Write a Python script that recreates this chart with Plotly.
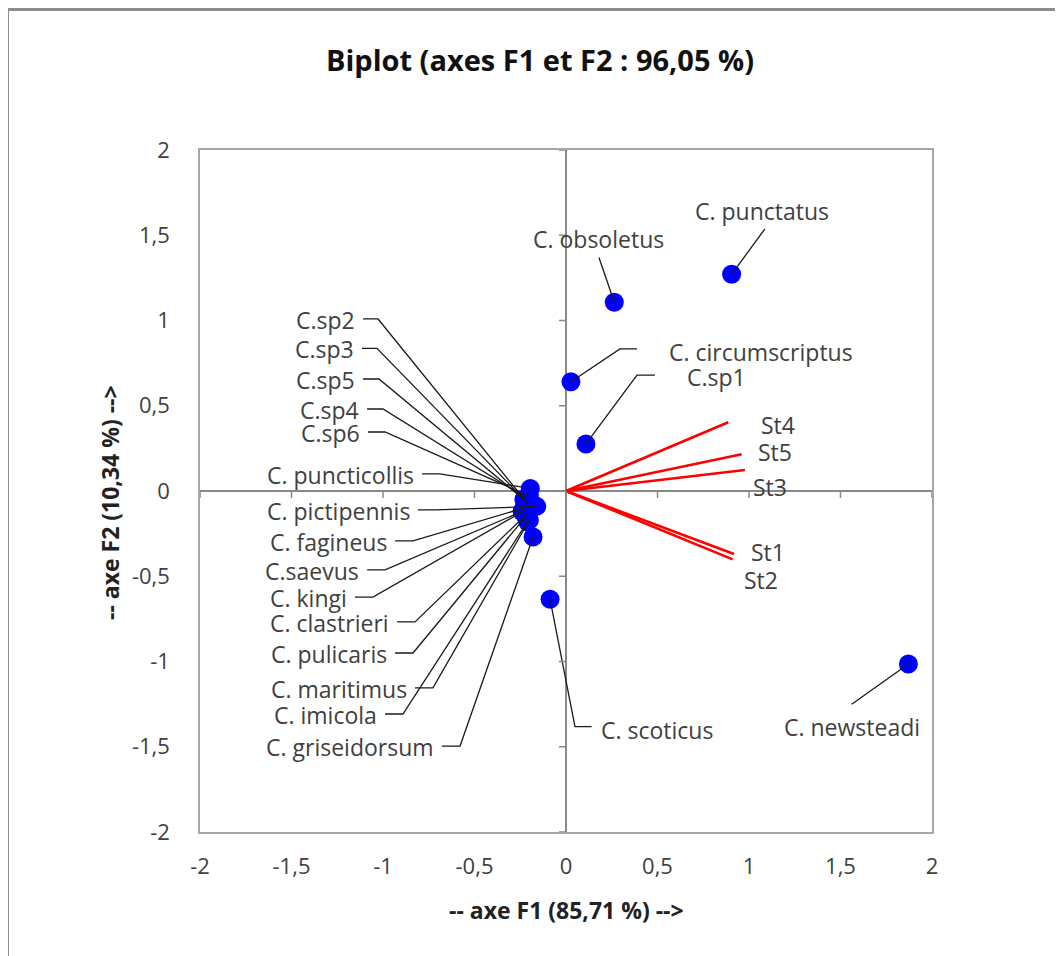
import plotly.graph_objects as go

# ---------------- data ----------------
species = ["C. punctatus", "C. obsoletus", "C. circumscriptus", "C.sp1", "C. scoticus", "C. newsteadi",
           "C.sp2", "C.sp3", "C.sp5", "C.sp4", "C.sp6", "C. puncticollis", "C. pictipennis",
           "C. fagineus", "C.saevus", "C. kingi", "C. clastrieri", "C. pulicaris", "C. maritimus",
           "C. imicola", "C. griseidorsum"]
species_f1 = [0.905, 0.264, 0.027, 0.109, -0.087, 1.871,
              -0.22, -0.21, -0.23, -0.22, -0.20, -0.195, -0.16,
              -0.23, -0.24, -0.22, -0.21, -0.22, -0.20,
              -0.21, -0.18]
species_f2 = [1.271, 1.107, 0.641, 0.276, -0.635, -1.015,
              -0.06, -0.07, -0.05, -0.04, -0.03, 0.015, -0.09,
              -0.10, -0.12, -0.11, -0.13, -0.15, -0.17,
              -0.18, -0.27]

stations = ["St1", "St2", "St3", "St4", "St5"]
station_f1 = [0.918, 0.911, 0.978, 0.887, 0.960]
station_f2 = [-0.370, -0.401, 0.123, 0.403, 0.215]

tick_vals = [-2, -1.5, -1, -0.5, 0, 0.5, 1, 1.5, 2]
tick_text = ["-2", "-1,5", "-1", "-0,5", "0", "0,5", "1", "1,5", "2"]

title_text = "Biplot (axes F1 et F2 : 96,05 %)"
x_title = "-- axe F1 (85,71 %) -->"
y_title = "-- axe F2 (10,34 %) -->"

# ---------------- label placement (layout) ----------------
# name: (leader start x, leader start y, elbow x or None, text x, text y, xanchor)
label_pos = {
    "C. punctatus": (1.087, 1.537, None, 1.071, 1.642, "center"),
    "C. obsoletus": (0.180, 1.370, None, 0.180, 1.478, "center"),
    "C. circumscriptus": (0.388, 0.833, 0.295, 0.557, 0.815, "left"),
    "C.sp1": (0.486, 0.680, 0.388, 0.656, 0.670, "left"),
    "C. scoticus": (0.140, -1.382, 0.049, 0.186, -1.402, "left"),
    "C. newsteadi": (1.561, -1.251, None, 1.561, -1.386, "center"),
    "C.sp2": (-1.109, 1.009, -1.027, None, None, "right"),
    "C.sp3": (-1.115, 0.837, -1.033, None, None, "right"),
    "C.sp5": (-1.109, 0.657, -1.022, None, None, "right"),
    "C.sp4": (-1.087, 0.481, -1.000, None, None, "right"),
    "C.sp6": (-1.082, 0.346, -0.989, None, None, "right"),
    "C. puncticollis": (-0.787, 0.100, -0.689, None, None, "right"),
    "C. pictipennis": (-0.809, -0.111, -0.710, None, None, "right"),
    "C. fagineus": (-0.934, -0.293, -0.836, None, None, "right"),
    "C.saevus": (-1.087, -0.463, -0.989, None, None, "right"),
    "C. kingi": (-1.153, -0.622, -1.055, None, None, "right"),
    "C. clastrieri": (-0.923, -0.768, -0.825, None, None, "right"),
    "C. pulicaris": (-0.934, -0.950, -0.836, None, None, "right"),
    "C. maritimus": (-0.825, -1.155, -0.727, None, None, "right"),
    "C. imicola": (-0.989, -1.308, -0.891, None, None, "right"),
    "C. griseidorsum": (-0.678, -1.496, -0.579, None, None, "right"),
}
station_label_pos = {"St1": (1.005, -0.356), "St2": (0.966, -0.522), "St3": (1.015, 0.025),
                     "St4": (1.060, 0.387), "St5": (1.042, 0.230)}

W, H = 1063, 956
OFF = 8  # page body margin offset
ML, MT = 200 - OFF, 150 - OFF
PW, PH = 732, 682
MR, MB = W - ML - PW, H - MT - PH


def px_to_paper(px, py):
    return (px - OFF - ML) / PW, (MT + PH - (py - OFF)) / PH


FONT = "Open Sans, Calibri, Lato, sans-serif"
TXT = "#404040"
LSIZE = 23

fig = go.Figure()

# species markers
fig.add_trace(go.Scatter(x=species_f1, y=species_f2, mode="markers",
                         marker=dict(color="#0000FF", size=19, line=dict(width=0)),
                         text=species, hoverinfo="text", showlegend=False))

# leader lines
lx, ly = [], []
annotations = []
for name, px_, py_ in zip(species, species_f1, species_f2):
    sx, sy, ex, tx, ty, anc = label_pos[name]
    lx += [sx]
    ly += [sy]
    if ex is not None:
        lx += [ex]
        ly += [sy]
    lx += [px_, None]
    ly += [py_, None]
    if anc == "right":
        annotations.append(dict(x=sx, y=sy, xref="x", yref="y", text=name, showarrow=False,
                                xanchor="right", yanchor="middle", xshift=-7, yshift=-1,
                                borderpad=0, font=dict(family=FONT, size=LSIZE, color=TXT)))
    else:
        annotations.append(dict(x=tx, y=ty, xref="x", yref="y", text=name, showarrow=False,
                                xanchor=anc, yanchor="middle", borderpad=0,
                                font=dict(family=FONT, size=LSIZE, color=TXT)))

fig.add_trace(go.Scatter(x=lx, y=ly, mode="lines", line=dict(color="#1a1a1a", width=1.3),
                         hoverinfo="skip", showlegend=False))

# station vectors
vx, vy = [], []
for s, a, b in zip(stations, station_f1, station_f2):
    vx += [0, a, None]
    vy += [0, b, None]
    tx, ty = station_label_pos[s]
    annotations.append(dict(x=tx, y=ty, xref="x", yref="y", text=s, showarrow=False,
                            xanchor="left", yanchor="middle", borderpad=0,
                            font=dict(family=FONT, size=LSIZE, color=TXT)))
fig.add_trace(go.Scatter(x=vx, y=vy, mode="lines", line=dict(color="#FF0000", width=2.6),
                         hoverinfo="skip", showlegend=False))

# title and axis titles
tt = px_to_paper(540, 60)
xt = px_to_paper(566, 910)
yt = px_to_paper(110, 503)
annotations.append(dict(x=tt[0], y=tt[1], xref="paper", yref="paper", text="<b>" + title_text + "</b>",
                        showarrow=False, xanchor="center", yanchor="middle",
                        font=dict(family=FONT, size=29, color="#111111")))
annotations.append(dict(x=xt[0], y=xt[1], xref="paper", yref="paper", text="<b>" + x_title + "</b>",
                        showarrow=False, xanchor="center", yanchor="middle",
                        font=dict(family=FONT, size=23, color="#222222")))
annotations.append(dict(x=yt[0], y=yt[1], xref="paper", yref="paper", text="<b>" + y_title + "</b>",
                        showarrow=False, xanchor="center", yanchor="middle", textangle=-90,
                        font=dict(family=FONT, size=23, color="#222222")))

# shapes: ticks on zero axes, outer chart border
shapes = []
for v in tick_vals:
    shapes.append(dict(type="line", xref="x", yref="y", x0=v, x1=v, ysizemode="pixel", yanchor=0,
                       y0=0, y1=-7, line=dict(color="#898989", width=1.5)))
    shapes.append(dict(type="line", xref="x", yref="y", y0=v, y1=v, xsizemode="pixel", xanchor=0,
                       x0=0, x1=-7, line=dict(color="#898989", width=1.5)))
b0 = px_to_paper(7.5, 9.5)
b1 = px_to_paper(1100, 1000)
shapes.append(dict(type="line", xref="paper", yref="paper", x0=b0[0], x1=b1[0], y0=b0[1], y1=b0[1],
                   line=dict(color="#8c8c8c", width=3)))
shapes.append(dict(type="line", xref="paper", yref="paper", x0=b0[0], x1=b0[0], y0=b0[1], y1=b1[1],
                   line=dict(color="#8c8c8c", width=3)))

axis_common = dict(range=[-2, 2], tickvals=tick_vals, ticktext=tick_text, showgrid=False,
                   zeroline=True, zerolinecolor="#898989", zerolinewidth=1.5,
                   showline=True, mirror=True, linecolor="#A6A6A6", linewidth=1.5,
                   ticks="", tickfont=dict(family=FONT, size=22, color=TXT), fixedrange=True)

fig.update_layout(
    width=W, height=H,
    margin=dict(l=ML, r=MR, t=MT, b=MB),
    paper_bgcolor="white", plot_bgcolor="white",
    xaxis=dict(**axis_common, ticklabelstandoff=14),
    yaxis=dict(**axis_common, ticklabelstandoff=24),
    annotations=annotations,
    shapes=shapes,
    showlegend=False,
)

fig.write_html("out.html")
